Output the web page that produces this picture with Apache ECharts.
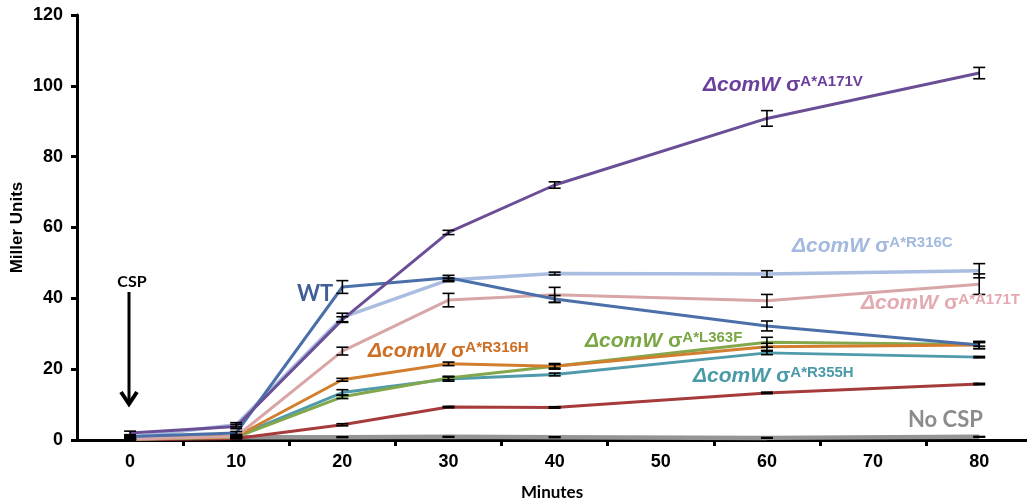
<!DOCTYPE html>
<html><head><meta charset="utf-8">
<script src="https://cdn.jsdelivr.net/npm/echarts@6/dist/echarts.min.js"></script>
<style>html,body{margin:0;padding:0;background:#fff}#c{width:1027px;height:500px}</style>
</head><body><div id="c"></div>
<script>
// ---- data ----
const minutes = [0, 10, 20, 30, 40, 60, 80];
const xTickLabels = [0, 10, 20, 30, 40, 50, 60, 70, 80];
const xTickMarks = [5, 15, 25, 35, 45, 55, 65, 75];
const yTickLabels = [0, 20, 40, 60, 80, 100, 120];

const noCsp    = [0.8, 0.8, 0.8, 0.9, 0.8, 0.6, 0.9];
const noCspErr = [0.1, 0.1, 0.1, 0.1, 0.1, 0.1, 0.1];
const comW     = [0.1, 0.4, 4.3, 9.3, 9.2, 13.3, 15.8];
const comWErr  = [0.1, 0.1, 0.3, 0.2, 0.2, 0.2, 0.2];
const r355h    = [0.2, 1.0, 13.4, 17.2, 18.5, 24.6, 23.4];
const r355hErr = [0.1, 0.2, 0.8, 0.6, 0.4, 0.5, 0.2];
const l363f    = [0.2, 0.8, 12.2, 17.5, 20.8, 27.6, 27.0];
const l363fErr = [0.1, 0.2, 0.5, 0.5, 0.5, 1.4, 0.5];
const r316h    = [0.2, 1.0, 17.0, 21.5, 20.8, 26.3, 26.8];
const r316hErr = [0.1, 0.2, 0.4, 0.5, 0.8, 1.0, 1.0];
const a171t    = [0.3, 1.0, 25.1, 39.5, 41.0, 39.3, 44.0];
const a171tErr = [0.2, 0.3, 1.1, 1.9, 2.1, 1.8, 2.9];
const r316c    = [0.8, 4.3, 34.6, 45.2, 47.0, 46.9, 47.8];
const r316cErr = [0.3, 0.6, 1.2, 0.5, 0.4, 0.9, 2.0];
const wt       = [1.0, 2.0, 43.2, 45.8, 39.8, 32.2, 26.8];
const wtErr    = [0.3, 0.4, 1.8, 0.7, 1.0, 1.4, 1.0];
const a171v    = [2.0, 3.8, 34.0, 58.6, 72.0, 90.8, 103.6];
const a171vErr = [0.5, 0.6, 0.8, 0.6, 0.9, 2.2, 1.6];

// ---- styles ----
const seriesDefs = [
  {name: 'No CSP', vals: noCsp, err: noCspErr, color: '#959595', width: 4.5},
  {name: 'ΔcomW', vals: comW, err: comWErr, color: '#a63b3c', width: 3},
  {name: 'ΔcomW σA*R355H', vals: r355h, err: r355hErr, color: '#4f9bab', width: 3},
  {name: 'ΔcomW σA*L363F', vals: l363f, err: l363fErr, color: '#83a84b', width: 3},
  {name: 'ΔcomW σA*R316H', vals: r316h, err: r316hErr, color: '#d27e2f', width: 3},
  {name: 'ΔcomW σA*A171T', vals: a171t, err: a171tErr, color: '#d8a6a6', width: 3},
  {name: 'ΔcomW σA*R316C', vals: r316c, err: r316cErr, color: '#a9bde0', width: 3.5},
  {name: 'WT', vals: wt, err: wtErr, color: '#4b70a9', width: 3},
  {name: 'ΔcomW σA*A171V', vals: a171v, err: a171vErr, color: '#6b4f96', width: 3}
];

const series = [];
seriesDefs.forEach(d => {
  series.push({
    type: 'line', name: d.name, showSymbol: false, symbol: 'none',
    lineStyle: {color: d.color, width: d.width}, itemStyle: {color: d.color},
    data: minutes.map((m, i) => [m, d.vals[i]]), z: 2, silent: true
  });
});
seriesDefs.forEach(d => {
  series.push({
    type: 'custom', name: d.name + ' err', z: 5, silent: true,
    data: minutes.map((m, i) => [m, d.vals[i], d.err[i]]),
    renderItem: function (params, api) {
      const x = api.value(0), y = api.value(1), e = api.value(2);
      const top = api.coord([x, y + e]);
      const bot = api.coord([x, y - e]);
      const hw = 6;
      const st = {stroke: '#000', lineWidth: 1.6};
      return {type: 'group', children: [
        {type: 'line', shape: {x1: top[0], y1: top[1], x2: bot[0], y2: bot[1]}, style: st},
        {type: 'line', shape: {x1: top[0] - hw, y1: top[1], x2: top[0] + hw, y2: top[1]}, style: st},
        {type: 'line', shape: {x1: bot[0] - hw, y1: bot[1], x2: bot[0] + hw, y2: bot[1]}, style: st}
      ]};
    }
  });
});

const LS = '"Liberation Sans", Arial, sans-serif';
const CAL = 'Lato, "Open Sans", sans-serif';

function mutLabel(x, y, color, sup) {
  return {
    type: 'text', x: x, y: y, z: 10, silent: true,
    style: {
      text: '{a|ΔcomW }{b|σ}{c|' + sup + '}',
      fill: color, align: 'left', verticalAlign: 'middle',
      rich: {
        a: {fill: color, fontFamily: LS, fontSize: 21, fontWeight: 'bold', fontStyle: 'italic', lineHeight: 22},
        b: {fill: color, fontFamily: LS, fontSize: 21, fontWeight: 'bold', lineHeight: 22},
        c: {fill: color, fontFamily: LS, fontSize: 15, fontWeight: 'bold', lineHeight: 15, verticalAlign: 'top'}
      }
    }
  };
}

const graphic = [
  mutLabel(703, 85, '#6b3f9c', 'A*A171V'),
  mutLabel(792, 246, '#a3b9df', 'A*R316C'),
  mutLabel(861, 303, '#e3aab1', 'A*A171T'),
  mutLabel(585, 341, '#7aa644', 'A*L363F'),
  mutLabel(368, 351, '#cd6f25', 'A*R316H'),
  mutLabel(693, 376, '#4b9aa8', 'A*R355H'),
  {type: 'text', x: 297, y: 294, z: 10, style: {text: 'WT', fill: '#3f5f95', font: 'bold 22px ' + CAL, verticalAlign: 'middle', align: 'left'}},
  {type: 'text', x: 908, y: 420, z: 10, style: {text: 'No CSP', fill: '#8c8c8c', font: 'bold 22px ' + CAL, verticalAlign: 'middle', align: 'left'}},
  {type: 'text', x: 132, y: 282, z: 10, style: {text: 'CSP', fill: '#000', font: 'bold 16px ' + CAL, verticalAlign: 'middle', align: 'center'}},
  {type: 'line', z: 10, shape: {x1: 129, y1: 292, x2: 129, y2: 402}, style: {stroke: '#000', lineWidth: 3}},
  {type: 'polyline', z: 10, shape: {points: [[121, 392], [129, 404], [137, 392]]}, style: {stroke: '#000', lineWidth: 4, fill: null}}
];

const option = {
  animation: false,
  backgroundColor: '#fff',
  grid: {left: 77, right: 0, top: 15, bottom: 60, containLabel: false, outerBoundsMode: 'none'},
  xAxis: {
    type: 'value', min: -5, max: 84.5,
    name: 'Minutes', nameLocation: 'middle', nameGap: 44,
    nameTextStyle: {fontFamily: CAL, fontWeight: 'bold', fontSize: 17, color: '#000'},
    axisLine: {onZero: false, lineStyle: {color: '#000', width: 3}},
    axisTick: {show: true, inside: false, length: 6, lineStyle: {color: '#000', width: 3}, customValues: xTickMarks},
    axisLabel: {customValues: xTickLabels, margin: 13, fontFamily: LS, fontWeight: 'bold', fontSize: 18, color: '#000'},
    splitLine: {show: false}
  },
  yAxis: {
    type: 'value', min: 0, max: 120, interval: 20,
    name: 'Miller Units', nameLocation: 'middle', nameGap: 51, nameRotate: 90, nameMoveOverlap: false,
    nameTextStyle: {fontFamily: LS, fontWeight: 'bold', fontSize: 17, color: '#000'},
    axisLine: {show: true, onZero: false, lineStyle: {color: '#000', width: 3}},
    axisTick: {show: true, inside: false, length: 6, lineStyle: {color: '#000', width: 3}},
    axisLabel: {margin: 14, fontFamily: LS, fontWeight: 'bold', fontSize: 18, color: '#000',
      customValues: yTickLabels},
    splitLine: {show: false}
  },
  series: series,
  graphic: graphic
};

const chart = echarts.init(document.getElementById('c'), null, {renderer: 'canvas'});
chart.setOption(option);
</script>
</body></html>
